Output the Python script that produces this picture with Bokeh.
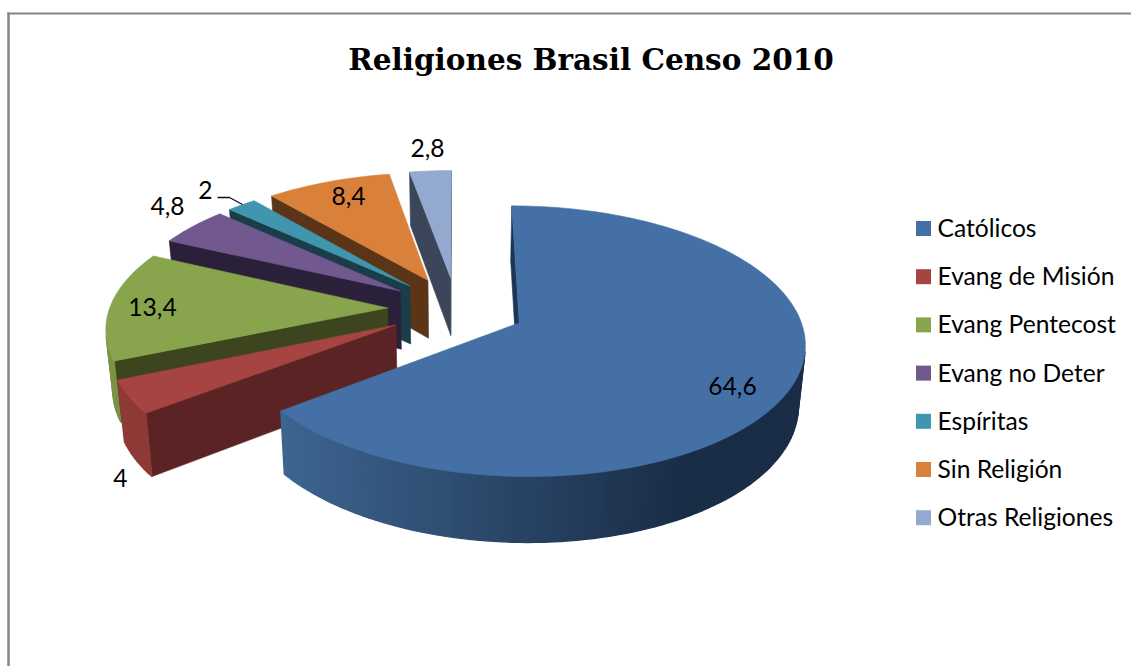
from math import sin, cos, radians
from bokeh.plotting import figure
from bokeh.models import Range1d
from bokeh.core.properties import value
from bokeh.embed import file_html
from bokeh.resources import INLINE

# Census shares, clockwise from twelve o'clock
categories = ["Católicos", "Evang de Misión", "Evang Pentecost", "Evang no Deter",
              "Espíritas", "Sin Religión", "Otras Religiones"]
shares = [64.6, 4, 13.4, 4.8, 2, 8.4, 2.8]
share_labels = ["64,6", "4", "13,4", "4,8", "2", "8,4", "2,8"]
label_anchor = [(732, 385), (120, 477), (152, 306), (167, 205), (205, 189), (348, 195), (427, 147)]
top_colors = ["#4570A6", "#A64441", "#88A44C", "#71588F", "#4096AF", "#D9813A", "#93A9CF"]
radial_colors = ["#1C3557", "#5C2324", "#3C451E", "#2B2039", "#1B3D49", "#5A3517", "#3C465A"]
rim_colors = ["#2A4A70", "#8E3A37", "#7A9344", "#5F4A78", "#357F94", "#B86E30", "#7D90B0"]
title = "Religiones Brasil Censo 2010"

# Tilted-disc projection of the pie
CX, CY = 456.0, 308.0
RADIUS = 278.0
EXPLODE = 69.0
SQUASH = 0.464
PERSP = 0.00048
DEPTH = 59.0
BASE_SHRINK = 0.98


def project(gx, gy, lower=False):
    f = 1.0 / (1.0 + gy * PERSP)
    if lower:
        return CX + gx * f * BASE_SHRINK, CY - SQUASH * gy * f * BASE_SHRINK + DEPTH * f
    return CX + gx * f, CY - SQUASH * gy * f


def area(poly):
    s = 0.0
    for i in range(len(poly)):
        x0, y0 = poly[i]
        x1, y1 = poly[(i + 1) % len(poly)]
        s += x0 * y1 - x1 * y0
    return s / 2


def mix(a, b, t):
    ca = [int(a[i:i + 2], 16) for i in (1, 3, 5)]
    cb = [int(b[i:i + 2], 16) for i in (1, 3, 5)]
    return "#" + "".join(f"{round(u + (v - u) * t):02x}" for u, v in zip(ca, cb))


p = figure(width=1131, height=666, output_backend="svg", toolbar_location=None,
           x_range=Range1d(0, 1131), y_range=Range1d(666, 0),
           min_border=0, outline_line_color=None, background_fill_color="white",
           border_fill_color="white")
p.axis.visible = False
p.grid.visible = False

# Chart frame, open on the right and at the bottom
p.line([8, 8], [666, 12], line_color="#868686", line_width=2.5)
p.line([7, 1131], [13, 13], line_color="#868686", line_width=2)

p.text([590.5], [59], text=[title], text_font=value("DejaVu Serif"), text_font_style="bold",
       text_font_size="29.5px", text_align="center", text_baseline="middle", text_color="black")


def fill(poly, color, width=0.6):
    xs, ys = zip(*poly)
    p.patch(list(xs), list(ys), fill_color=color, line_color=color, line_width=width)


total = sum(shares)
starts = []
run = 0.0
for v in shares:
    starts.append(run)
    run += v

# Farther slices are painted first so nearer ones overlap them
for idx in [6, 5, 4, 3, 2, 1, 0]:
    a0 = starts[idx] / total * 360
    a1 = (starts[idx] + shares[idx]) / total * 360
    mid = radians((a0 + a1) / 2)
    ox, oy = EXPLODE * sin(mid), EXPLODE * cos(mid)
    n = max(4, int((a1 - a0) / 1.5))
    angles = [radians(a0 + (a1 - a0) * i / n) for i in range(n + 1)]
    ground = [(ox + RADIUS * sin(t), oy + RADIUS * cos(t)) for t in angles]
    top_arc = [project(*g) for g in ground]
    low_arc = [project(*g, lower=True) for g in ground]
    ap_top = project(ox, oy)
    ap_low = project(ox, oy, lower=True)

    start_wall = [ap_top, top_arc[0], low_arc[0], ap_low]
    end_wall = [top_arc[-1], ap_top, ap_low, low_arc[-1]]
    for wall in (start_wall, end_wall):
        if area(wall) < 0:
            fill(wall, radial_colors[idx])

    for i in range(n):
        quad = [top_arc[i], top_arc[i + 1], low_arc[i + 1], low_arc[i]]
        if area(quad) < 0:
            color = rim_colors[idx]
            if idx == 0:
                t = min(1.0, max(0.0, ((quad[0][0] + quad[1][0]) / 2 - 281) / 400))
                color = mix("#3D6590", "#1A2D47", t)
            fill(quad, color, width=1.4)

    fill([ap_top] + top_arc, top_colors[idx])

# Leader line for the narrowest slice
p.line([217, 229, 242], [197, 197, 204], line_color="#111111", line_width=1.3)

p.text([c[0] for c in label_anchor], [c[1] for c in label_anchor], text=share_labels,
       text_font=value("Lato"), text_font_size="24.6px", text_align="center",
       text_baseline="middle", text_color="black")

# Legend
legend_y = [228 + 48.2 * i for i in range(len(categories))]
label_y = [y - 1 for y in legend_y]
p.rect([923] * 7, legend_y, width=15, height=15, fill_color=top_colors, line_color=None)
p.text([937] * 7, label_y, text=categories, text_font=value("Lato"), text_font_size="24.6px",
       text_align="left", text_baseline="middle", text_color="black")

open("out.html", "w").write(file_html(p, INLINE))
